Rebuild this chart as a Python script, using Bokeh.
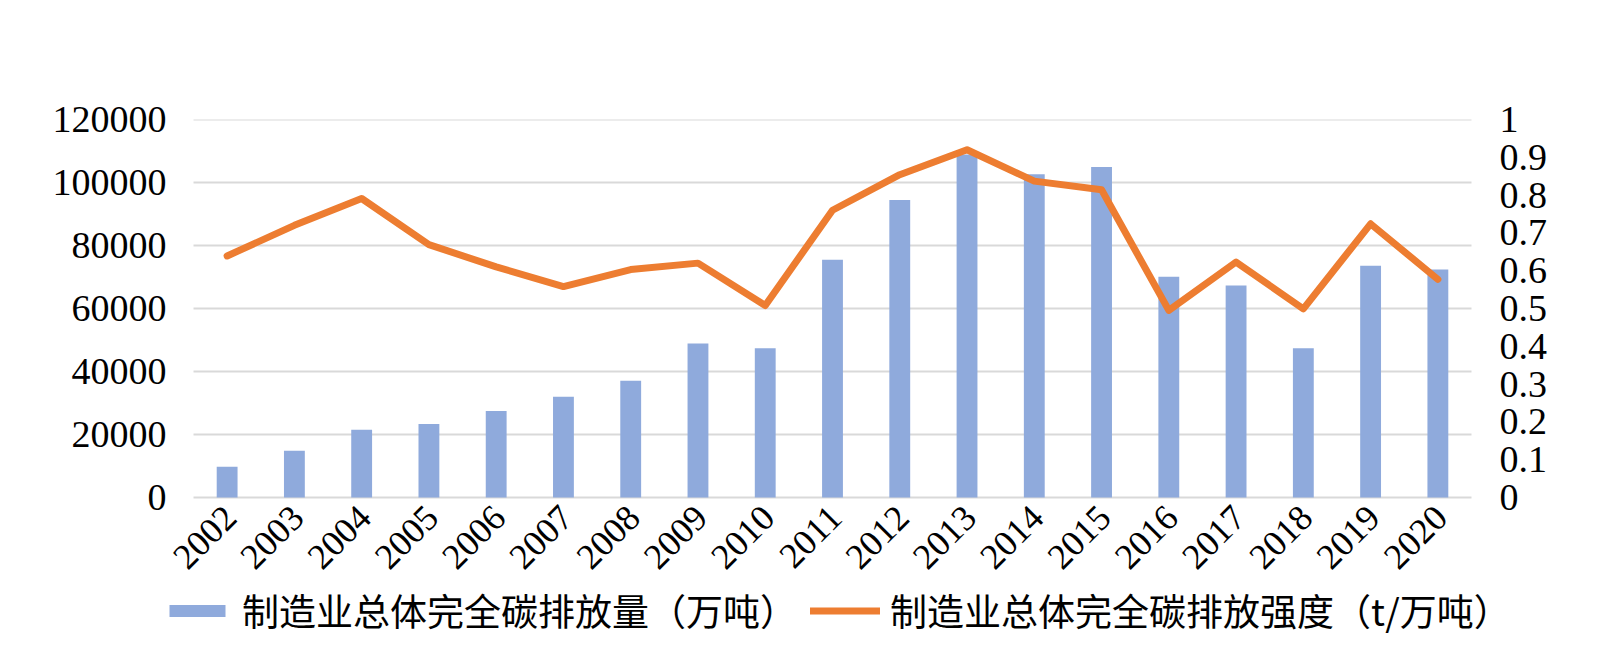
from bokeh.plotting import figure
from bokeh.models import (Range1d, FactorRange, LinearAxis, FixedTicker, Legend, LegendItem,
                          CustomJSTickFormatter, ColumnDataSource)
from bokeh.core.properties import value
from bokeh.embed import file_html
from bokeh.resources import INLINE
import math

years = ["2002", "2003", "2004", "2005", "2006", "2007", "2008", "2009", "2010", "2011",
         "2012", "2013", "2014", "2015", "2016", "2017", "2018", "2019", "2020"]
emissions = [9750, 14840, 21500, 23300, 27450, 32000, 37100, 48850, 47400, 75500,
             94450, 108850, 102600, 104900, 70050, 67300, 47400, 73550, 72400]
intensity = [0.639, 0.720, 0.791, 0.669, 0.610, 0.558, 0.603, 0.620, 0.508, 0.760,
             0.854, 0.920, 0.837, 0.814, 0.495, 0.623, 0.499, 0.724, 0.577]
left_ticks = [0, 20000, 40000, 60000, 80000, 100000, 120000]
right_ticks = [0, 0.1, 0.2, 0.3, 0.4, 0.5, 0.6, 0.7, 0.8, 0.9, 1.0]
bar_label = "制造业总体完全碳排放量（万吨）"
line_label = "制造业总体完全碳排放强度（t/万吨）"

NUM_FONT = "Liberation Serif"
CJK_FONT = "Noto Sans CJK SC"

# layout (pixels)
TOP, ZERO, BOTTOM = 119, 497, 646      # frame top, zero line, frame bottom
PLOT_W = 1278                          # width of the category area
FRAME_LEFT, FRAME_W = 150, 1364        # frame extends a little beyond the category area
below_frac = (BOTTOM - ZERO) / (ZERO - TOP)
pad_units = (FRAME_W - PLOT_W) / 2 / (PLOT_W / len(years))

src = ColumnDataSource(dict(year=years, emissions=emissions, intensity=intensity,
                            base=[0] * len(years)))
grid_src = ColumnDataSource(dict(x0=[0] * len(left_ticks), x1=[len(years)] * len(left_ticks),
                                 y=left_ticks))

ymax = left_ticks[-1]
rmax = right_ticks[-1]
p = figure(x_range=FactorRange(*years, range_padding=pad_units, range_padding_units="absolute"),
           y_range=Range1d(-ymax * below_frac, ymax),
           frame_width=FRAME_W, frame_height=BOTTOM - TOP,
           min_border_left=FRAME_LEFT, min_border_right=70, min_border_top=TOP, min_border_bottom=0,
           x_axis_location=None,
           output_backend="svg", toolbar_location=None)
p.extra_y_ranges = {"r": Range1d(-rmax * below_frac, rmax)}

# horizontal gridlines over the category area only
p.segment(x0="x0", x1="x1", y0="y", y1="y", source=grid_src, line_color="#D9D9D9", line_width=2)

bars = p.vbar(x="year", top="emissions", width=0.31, source=src,
              fill_color="#8FAADC", line_color=None)
line = p.line(x="year", y="intensity", source=src, y_range_name="r",
              line_color="#ED7D31", line_width=7, line_join="round", line_cap="round")

# category labels, rotated like the original
p.text(x="year", y="base", text="year", source=src, angle=math.pi / 4,
       text_align="right", text_baseline="middle", x_offset=3, y_offset=14,
       text_font=value(NUM_FONT), text_font_size=value("36px"), text_color="black")

p.outline_line_color = None
p.background_fill_color = "white"
p.border_fill_color = "white"
p.xgrid.grid_line_color = None
p.ygrid.grid_line_color = None

# left axis
ya = p.yaxis[0]
ya.ticker = FixedTicker(ticks=left_ticks)
ya.formatter = CustomJSTickFormatter(code="return String(Math.round(tick));")
ya.axis_line_color = None
ya.major_tick_line_color = None
ya.minor_tick_line_color = None
ya.major_tick_out = 0
ya.major_tick_in = 0
ya.major_label_standoff = -16
ya.major_label_text_font = NUM_FONT
ya.major_label_text_font_size = "38px"
ya.major_label_text_color = "black"

# right axis
ra = LinearAxis(y_range_name="r", ticker=FixedTicker(ticks=right_ticks),
                formatter=CustomJSTickFormatter(code="return String(Math.round(tick*10)/10);"))
ra.axis_line_color = None
ra.major_tick_line_color = None
ra.minor_tick_line_color = None
ra.major_tick_out = 0
ra.major_tick_in = 0
ra.major_label_standoff = -15
ra.major_label_text_font = NUM_FONT
ra.major_label_text_font_size = "38px"
ra.major_label_text_color = "black"
p.add_layout(ra, "right")

legend = Legend(items=[LegendItem(label=bar_label, renderers=[bars]),
                       LegendItem(label=line_label, renderers=[line])],
                location=(12, 9), orientation="horizontal",
                glyph_width=70, glyph_height=15, label_standoff=10, spacing=13,
                padding=0, margin=0, border_line_color=None, background_fill_alpha=0,
                label_text_font=CJK_FONT, label_text_font_size="37px",
                label_text_color="black")
p.add_layout(legend, "center")

open("out.html", "w").write(file_html(p, INLINE))
